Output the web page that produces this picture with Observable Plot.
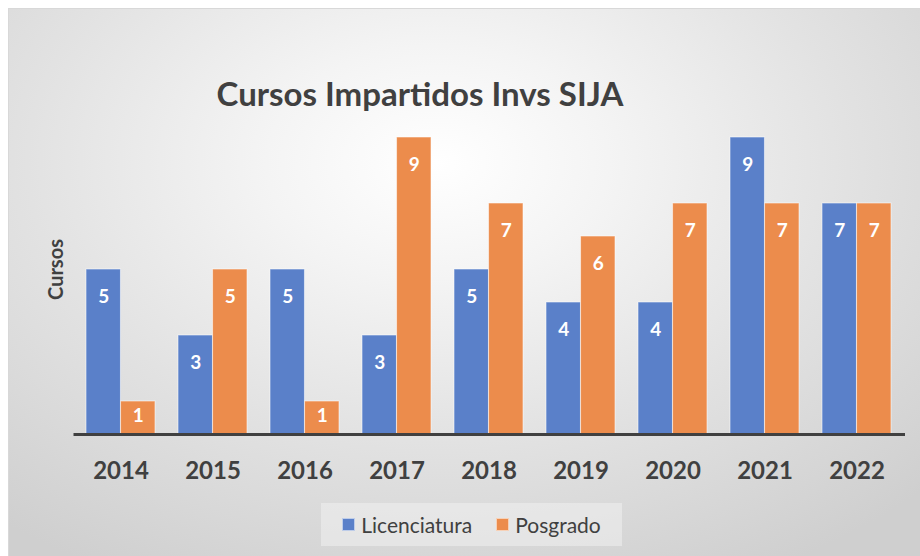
<!DOCTYPE html>
<html>
<head>
<meta charset="utf-8">
<script src="https://cdn.jsdelivr.net/npm/d3@7"></script>
<script src="https://cdn.jsdelivr.net/npm/@observablehq/plot@0.6"></script>
<style>
  html, body { margin: 0; padding: 0; background: #ffffff; }
  #wrap { position: relative; width: 920px; height: 556px; overflow: hidden; font-family: Lato, "Open Sans", sans-serif; }
  #bg { position: absolute; left: 8px; top: 8px; width: 912px; height: 548px;
        background: radial-gradient(ellipse 75% 85% at 47% 28%, #ffffff 0%, #f4f4f4 25%, #e2e2e2 60%, #cfcfcf 100%);
        border-top: 1px solid #d8d8d8; border-left: 1px solid #d8d8d8; }
  #title { position: absolute; left: 0; width: 840px; top: 74px; text-align: center; font-weight: 700; font-size: 33px; line-height: 1.2; color: #404040; white-space: nowrap; }
  #chart { position: absolute; left: 0; top: 0; }
  #legend { position: absolute; left: 321px; top: 503px; width: 301px; height: 43px; background: rgba(240,240,240,0.55);
            display: flex; align-items: center; justify-content: center; gap: 24px; font-size: 21px; color: #404040; }
  .item { display: flex; align-items: center; gap: 6px; }
  .sw { width: 13px; height: 13px; display: inline-block; box-sizing: border-box; border: 1px solid rgba(255,255,255,0.6); }
</style>
</head>
<body>
<div id="wrap">
  <div id="bg"></div>
  <div id="title">Cursos Impartidos Invs SIJA</div>
  <div id="chart"></div>
  <div id="legend"></div>
</div>
<script>
const years = ["2014", "2015", "2016", "2017", "2018", "2019", "2020", "2021", "2022"];
const licenciatura = [5, 3, 5, 3, 5, 4, 4, 9, 7];
const posgrado = [1, 5, 1, 9, 7, 6, 7, 7, 7];
const seriesNames = ["Licenciatura", "Posgrado"];
const seriesColors = ["#5a80c9", "#ec8c4c"];
const yLabel = "Cursos";

const lic = years.map((y, i) => ({year: y, v: licenciatura[i]}));
const pos = years.map((y, i) => ({year: y, v: posgrado[i]}));

const W = 920, H = 556;
const mL = 73.5, mR = 17;
const step = (W - mL - mR) / years.length;
const half = step * 0.75 / 2;

const labelStyle = {fill: "white", fontSize: 19, fontWeight: "bold", lineAnchor: "middle"};

const chart = Plot.plot({
  width: W,
  height: H,
  marginLeft: mL,
  marginRight: mR,
  marginTop: 104,
  marginBottom: 122,
  style: {background: "transparent", fontFamily: "Lato, 'Open Sans', sans-serif"},
  x: {domain: years, paddingInner: 0.25, paddingOuter: 0.125, axis: null},
  y: {domain: [0, 10], axis: null},
  marks: [
    Plot.barY(lic, {x: "year", y: "v", fill: seriesColors[0], insetRight: half, stroke: "white", strokeOpacity: 0.55, strokeWidth: 1}),
    Plot.barY(pos, {x: "year", y: "v", fill: seriesColors[1], insetLeft: half, stroke: "white", strokeOpacity: 0.55, strokeWidth: 1}),
    Plot.ruleY([0], {stroke: "#404040", strokeWidth: 3, insetRight: -2}),
    Plot.text(lic.filter(d => d.v > 1), {x: "year", y: "v", text: "v", dx: -half / 2, dy: 27, ...labelStyle}),
    Plot.text(pos.filter(d => d.v > 1), {x: "year", y: "v", text: "v", dx: half / 2, dy: 27, ...labelStyle}),
    Plot.text(lic.filter(d => d.v <= 1), {x: "year", y: "v", text: "v", dx: -half / 2, dy: 14, ...labelStyle}),
    Plot.text(pos.filter(d => d.v <= 1), {x: "year", y: "v", text: "v", dx: half / 2, dy: 14, ...labelStyle}),
    Plot.text(years, {x: d => d, frameAnchor: "bottom", lineAnchor: "middle", textAnchor: "middle", dy: 37, text: d => d, fontSize: 24, fontWeight: "bold", fill: "#404040"}),
    Plot.text([yLabel], {frameAnchor: "left", textAnchor: "middle", lineAnchor: "middle", dx: -17, rotate: -90, text: d => d, fontSize: 20, fontWeight: "bold", fill: "#404040"})
  ]
});
document.getElementById("chart").appendChild(chart);

const legend = document.getElementById("legend");
seriesNames.forEach((name, i) => {
  const item = document.createElement("div");
  item.className = "item";
  const sw = document.createElement("span");
  sw.className = "sw";
  sw.style.background = seriesColors[i];
  const t = document.createElement("span");
  t.textContent = name;
  item.appendChild(sw);
  item.appendChild(t);
  legend.appendChild(item);
});
</script>
</body>
</html>
